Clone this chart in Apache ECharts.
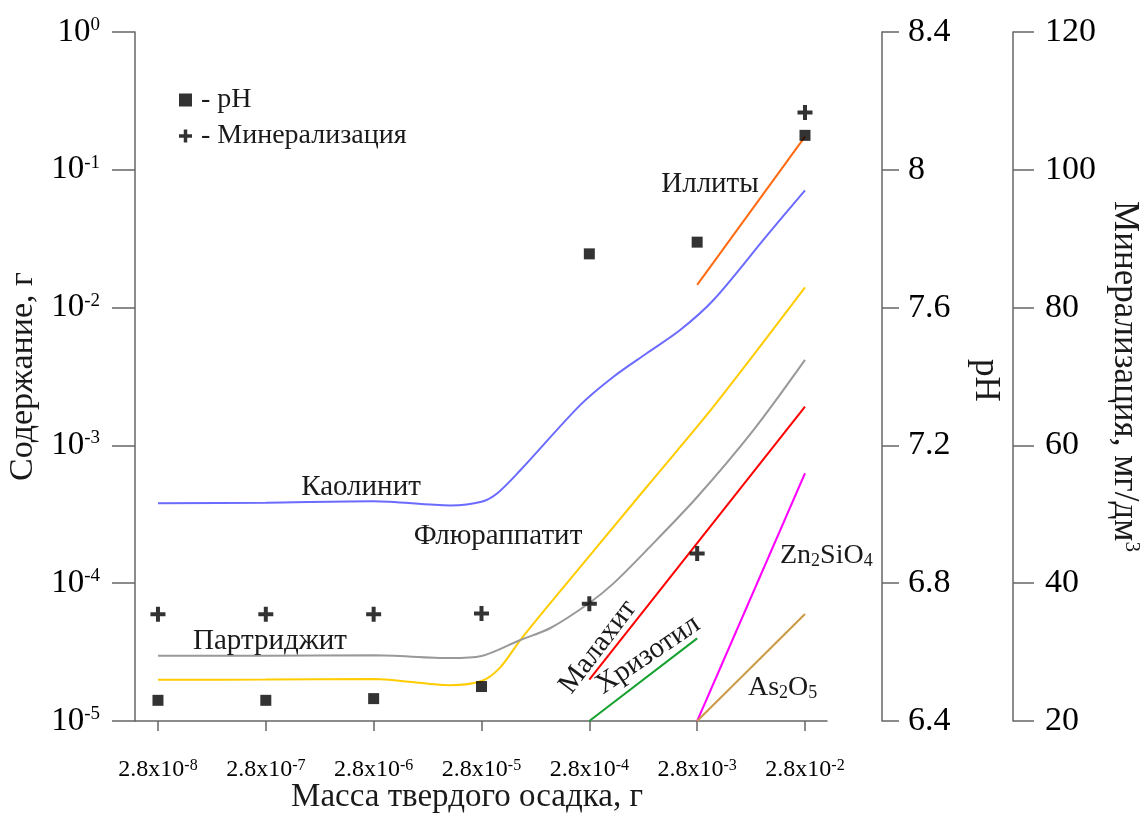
<!DOCTYPE html>
<html><head><meta charset="utf-8">
<script src="https://cdn.jsdelivr.net/npm/echarts@6/dist/echarts.min.js"></script>
<style>html,body{margin:0;padding:0;background:#fff;overflow:hidden}#c{width:1146px;height:813px}</style>
</head><body><div id="c"></div>
<script>
const FONT = "'Liberation Serif','Times New Roman',serif";
// x: exponent e of mass = 2.8 x 10^e (g)
const massExponents = [-8, -7, -6, -5, -4, -3, -2];
const pHValues = [6.46, 6.46, 6.465, 6.50, 7.756, 7.79, 8.10];
const mineralization = [35.5, 35.5, 35.5, 35.6, 37.0, 44.3, 108.3];

const kaolinite = [[-8,3.80e-4],[-7,3.84e-4],[-6,3.93e-4],[-5.29,3.67e-4],[-5,3.90e-4],[-4.85,4.52e-4],[-4.64,6.6e-4],[-4.085,1.96e-3],[-3.776,3.15e-3],[-3.467,4.66e-3],[-3.158,6.87e-3],[-2.849,1.135e-2],[-2.35,3.36e-2],[-2,7.1e-2]];
const fluorapatite = [[-8,1.99e-5],[-7,2.0e-5],[-6,2.02e-5],[-5.29,1.82e-5],[-5,1.95e-5],[-4.83,2.43e-5],[-4.64,3.87e-5],[-4.36,7.2e-5],[-3.467,5.01e-4],[-2.849,1.91e-3],[-2,1.40e-2]];
const partridgeite = [[-8,2.98e-5],[-7,2.98e-5],[-6,3.0e-5],[-5.29,2.86e-5],[-5,2.96e-5],[-4.64,3.87e-5],[-4.36,4.73e-5],[-4.0,7.18e-5],[-3.776,9.97e-5],[-3.467,1.74e-4],[-3.0,4.22e-4],[-2.478,1.29e-3],[-2,4.17e-3]];
const illite = [[-3,1.46e-2],[-2,0.174]];
const malachite = [[-4,2.0e-5],[-2,1.91e-3]];
const chrysotile = [[-4,1.0e-5],[-3,3.98e-5]];
const znSiO4 = [[-3,1.0e-5],[-2,6.28e-4]];
const as2o5 = [[-3,1.0e-5],[-2,5.97e-5]];

const PLUS = 'path://M5.5,0h4v5.5h5.5v4h-5.5v5.5h-4v-5.5h-5.5v-4h5.5z';
const AX = '#666';
const chart = echarts.init(document.getElementById('c'));

function lineSeries(name, data, color, smooth) {
  return {name, type:'line', data, yAxisIndex:0, smooth: smooth ? 0.3 : false,
    showSymbol:false, symbol:'none', lineStyle:{color, width:2}, z:2, silent:true};
}
const supRich = {
  b:{fontFamily:FONT, fontSize:33, color:'#000'},
  s:{fontFamily:FONT, fontSize:19, color:'#000', verticalAlign:'top'}
};
const xRich = {
  b:{fontFamily:FONT, fontSize:24, color:'#000'},
  s:{fontFamily:FONT, fontSize:16, color:'#000', verticalAlign:'top'}
};
const txt = (text, x, y, rot, size) => ({
  type:'text', x, y, rotation:(rot||0)*Math.PI/180, z:10,
  style:{text, fontFamily:FONT, fontSize:size||29, fill:'#1a1a1a', align:'center', verticalAlign:'middle'}
});
const subRich = {
  sub:{fontFamily:FONT, fontSize:18, fill:'#1a1a1a', verticalAlign:'bottom'},
  n:{fontFamily:FONT, fontSize:28, fill:'#1a1a1a'}
};

chart.setOption({
  animation:false,
  backgroundColor:'#fff',
  grid:{left:135, right:319, top:32, bottom:92, containLabel:false, outerBoundsMode:'none'},
  legend:{
    orient:'vertical', left:174, top:81, itemGap:8, itemWidth:13, itemHeight:13,
    formatter: n => '- ' + n,
    textStyle:{fontFamily:FONT, fontSize:28, color:'#1a1a1a', padding:[0,0,0,4]},
    data:[{name:'pH', icon:'rect'}, {name:'Минерализация', icon:PLUS}]
  },
  xAxis:{
    type:'value', min:-8.213, max:-1.796,
    name:'Масса твердого осадка, г', nameLocation:'middle', nameGap:60, nameMoveOverlap:false,
    nameTextStyle:{fontFamily:FONT, fontSize:33, color:'#1a1a1a', padding:[0,28,0,0]},
    axisLine:{show:true, onZero:false, lineStyle:{color:AX, width:1.5}},
    axisTick:{show:true, length:10, lineStyle:{color:AX, width:1.5}, customValues:massExponents},
    axisLabel:{margin:37, customValues:massExponents, formatter:v => '{b|2.8x10}{s|' + v + '}', rich:xRich},
    splitLine:{show:false}
  },
  yAxis:[
    {type:'log', logBase:10, min:1e-5, max:1, position:'left',
     name:'Содержание, г', nameLocation:'middle', nameGap:92, nameRotate:90,
     nameTextStyle:{fontFamily:FONT, fontSize:34, color:'#1a1a1a'},
     axisLine:{show:true, lineStyle:{color:AX, width:1.5}},
     axisTick:{show:true, length:23, lineStyle:{color:AX, width:1.5}},
     axisLabel:{margin:35, formatter:v => '{b|10}{s|' + Math.round(Math.log10(v)) + '}', rich:supRich},
     minorTick:{show:false}, splitLine:{show:false}},
    {type:'value', min:6.4, max:8.4, interval:0.4, position:'right', offset:55,
     name:'pH', nameLocation:'middle', nameGap:86, nameRotate:-90,
     nameTextStyle:{fontFamily:FONT, fontSize:35, color:'#1a1a1a', padding:[0,0,0,8]},
     axisLine:{show:true, lineStyle:{color:AX, width:1.5}},
     axisTick:{show:true, length:17, lineStyle:{color:AX, width:1.5}},
     axisLabel:{margin:26, fontFamily:FONT, fontSize:34, color:'#000'},
     splitLine:{show:false}},
    {type:'value', min:20, max:120, interval:20, position:'right', offset:186,
     name:'Минерализация, мг/дм{s|3}', nameLocation:'middle', nameGap:94, nameRotate:-90,
     nameTextStyle:{fontFamily:FONT, fontSize:35, color:'#1a1a1a',
       rich:{s:{fontFamily:FONT, fontSize:21, color:'#1a1a1a', verticalAlign:'top'}}},
     axisLine:{show:true, lineStyle:{color:AX, width:1.5}},
     axisTick:{show:true, length:21, lineStyle:{color:AX, width:1.5}},
     axisLabel:{margin:32, fontFamily:FONT, fontSize:34, color:'#000'},
     splitLine:{show:false}}
  ],
  series:[
    lineSeries('Каолинит', kaolinite, '#6b6bff', true),
    lineSeries('Флюраппатит', fluorapatite, '#ffcc00', true),
    lineSeries('Партриджит', partridgeite, '#999999', true),
    lineSeries('Иллиты', illite, '#ff6a10', false),
    lineSeries('Малахит', malachite, '#ff0000', false),
    lineSeries('Хризотил', chrysotile, '#16a02e', false),
    lineSeries('Zn2SiO4', znSiO4, '#ff00ff', false),
    lineSeries('As2O5', as2o5, '#cc9944', false),
    {name:'pH', type:'scatter', yAxisIndex:1, symbol:'rect', symbolSize:11,
     itemStyle:{color:'#000'}, z:5,
     data: massExponents.map((e,i) => [e, pHValues[i]])},
    {name:'Минерализация', type:'scatter', yAxisIndex:2, symbol:PLUS, symbolSize:15,
     itemStyle:{color:'#000'}, z:5,
     data: massExponents.map((e,i) => [e, mineralization[i]])}
  ],
  graphic:[
    txt('Каолинит', 361, 487),
    txt('Флюраппатит', 498, 536),
    txt('Партриджит', 270, 641),
    txt('Иллиты', 710, 184),
    txt('Малахит', 598, 647, 53),
    txt('Хризотил', 648, 655, 34),
    {type:'text', x:780, y:556, z:10, style:{text:'{n|Zn}{sub|2}{n|SiO}{sub|4}', rich:subRich, align:'left', verticalAlign:'middle', fontFamily:FONT, fontSize:28}},
    {type:'text', x:748, y:688, z:10, style:{text:'{n|As}{sub|2}{n|O}{sub|5}', rich:subRich, align:'left', verticalAlign:'middle', fontFamily:FONT, fontSize:28}}
  ]
});
</script></body></html>
